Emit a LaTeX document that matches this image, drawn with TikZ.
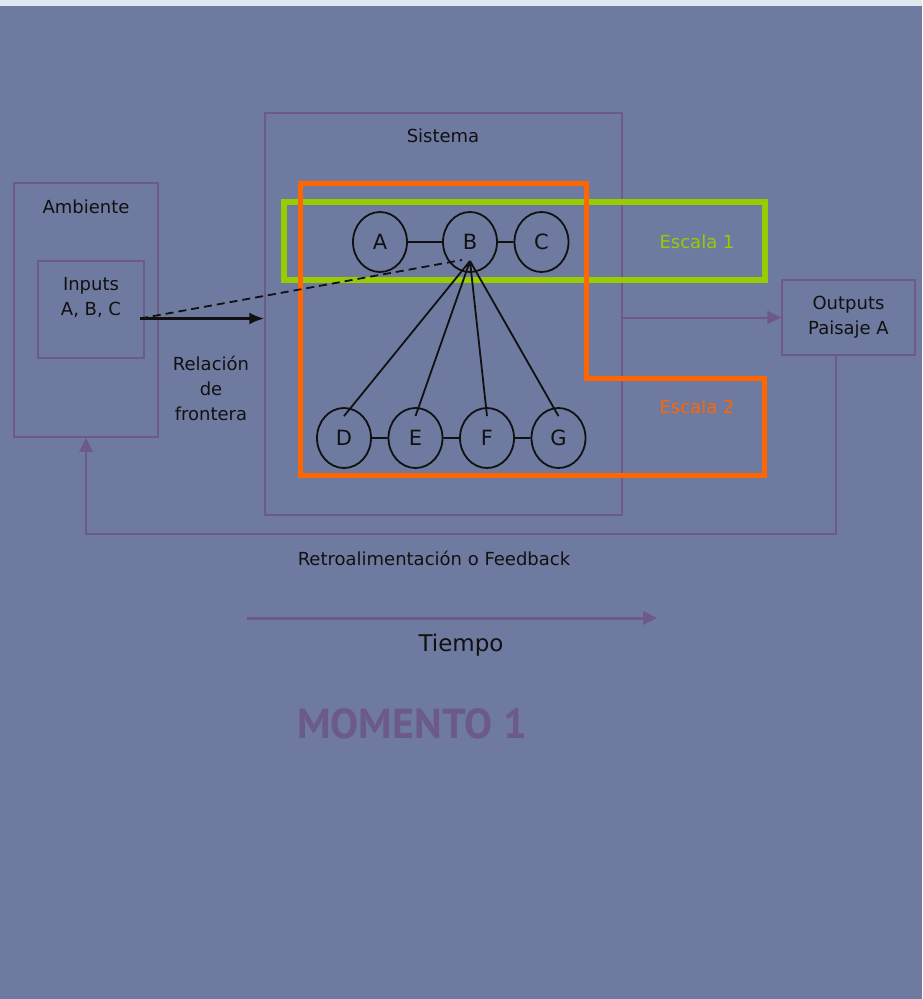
\documentclass[tikz,border=0pt]{standalone}
\usepackage{fontspec}
\setmainfont{DejaVu Sans}
\newfontfamily\titlefont{PT Sans}
\usepackage{xcolor}
\usetikzlibrary{arrows, arrows.meta, positioning, shapes.geometric}

\definecolor{slate}{RGB}{111,122,160}
\definecolor{strip}{RGB}{221,233,238}
\definecolor{boxline}{RGB}{108,90,136}
\definecolor{scaleone}{RGB}{153,204,0}
\definecolor{scaletwo}{RGB}{255,102,0}
\definecolor{ink}{RGB}{17,17,17}

\begin{document}
\begin{tikzpicture}[x=1pt,y=-1pt,node distance=71.5pt,on grid,font=\fontsize{18}{25}\selectfont]
    \tikzstyle{state}=[shape=ellipse,draw=ink,line width=1.8pt,minimum width=54pt,minimum height=60pt,inner sep=0pt,text=ink,font=\fontsize{21}{25}\selectfont]
    \tikzstyle{box}=[shape=rectangle,draw=boxline,line width=1.5pt,inner sep=0pt,text=ink,align=center]
    \tikzstyle{caption}=[text=ink,align=center,inner sep=0pt]
    \tikzstyle{flow}=[draw=boxline,line width=2pt,-{Triangle[length=14pt,width=13pt]}]

    % fondo
    \fill[slate] (0,0) rectangle (922,999);
    \fill[strip] (0,0) rectangle (922,6);

    \node[box, minimum width=144pt, minimum height=254pt] (amb) at (86,310) {};
    \node[caption] (ambt) at (86,207) {Ambiente};
    \node[box, minimum width=106pt, minimum height=97pt] (inp) at (91,309.5) {};
    \node[caption] (inpt) at (91,297) {Inputs\\A, B, C};
    \node[box, minimum width=357pt, minimum height=402pt] (sys) at (443.5,314) {};
    \node[caption] (syst) at (443,136) {Sistema};
    \node[box, minimum width=133pt, minimum height=75pt] (out) at (848.5,317.5) {Outputs\\Paisaje A};
    \node[caption] (rel) at (211,388) {Relación\\de\\frontera};

    % escalas
    \node[draw=scaleone, line width=6pt, minimum width=481pt, minimum height=78pt] (esc1) at (524,241) {};
    \draw[scaletwo, line width=5pt] (300.5,183) -- (586.5,183) -- (586.5,378) -- (764.5,378)
        -- (764.5,475.5) -- (300.5,475.5) -- cycle;
    \node[caption, text=scaleone] (esc1t) at (697,242) {Escala 1};
    \node[caption, text=scaletwo] (esc2t) at (697,407) {Escala 2};

    \node[state] (A) at (380,242) {A};
    \node[state] (B) at (470,242) {B};
    \node[state] (C) at (541.5,242) {C};
    \node[state] (D) at (344,438) {D};
    \node[state, right=of D] (E) {E};
    \node[state, right=of E] (F) {F};
    \node[state, right=of F] (G) {G};

    \coordinate (Bfoot) at (470,261);
    \coordinate (src) at (140,318.5);
    \coordinate (dst) at (462,260);
    \coordinate (fbcorner) at (86,534);
    \coordinate (t0) at (247,618);
    \coordinate (t1) at (657,618);

    \path[draw=ink,line width=1.8pt]
    (A) -- (B)
    (B) -- (C)
    (D) -- (E)
    (E) -- (F)
    (F) -- (G)
    (Bfoot) -- ([yshift=-9pt]D.north)
    (Bfoot) -- ([yshift=-9pt]E.north)
    (Bfoot) -- ([yshift=-9pt]F.north)
    (Bfoot) -- ([yshift=-9pt]G.north)
    ;
    \draw[ink, dash pattern=on 8pt off 5pt, line width=1.8pt] (src) -- (dst);
    \draw[ink, -{Latex[length=15pt,width=12pt]}, line width=2.5pt] (src) -- (src -| sys.west);
    \draw[flow] (out.west -| sys.east) -- (out.west);
    \draw[flow] ([xshift=-12.5pt]out.south) |- (fbcorner) -- (amb.south);
    \draw[flow, line width=3pt] (t0) -- (t1);

    \node[caption] (fb) at (434,558) {Retroalimentación o Feedback};
    \node[caption, font=\fontsize{23}{28}\selectfont] (tiempo) at (461,645) {Tiempo};
    \node[caption, text=boxline, font=\titlefont\bfseries\fontsize{42}{50}\selectfont] (momento) at (412,724) {MOMENTO 1};
\end{tikzpicture}
\end{document}
